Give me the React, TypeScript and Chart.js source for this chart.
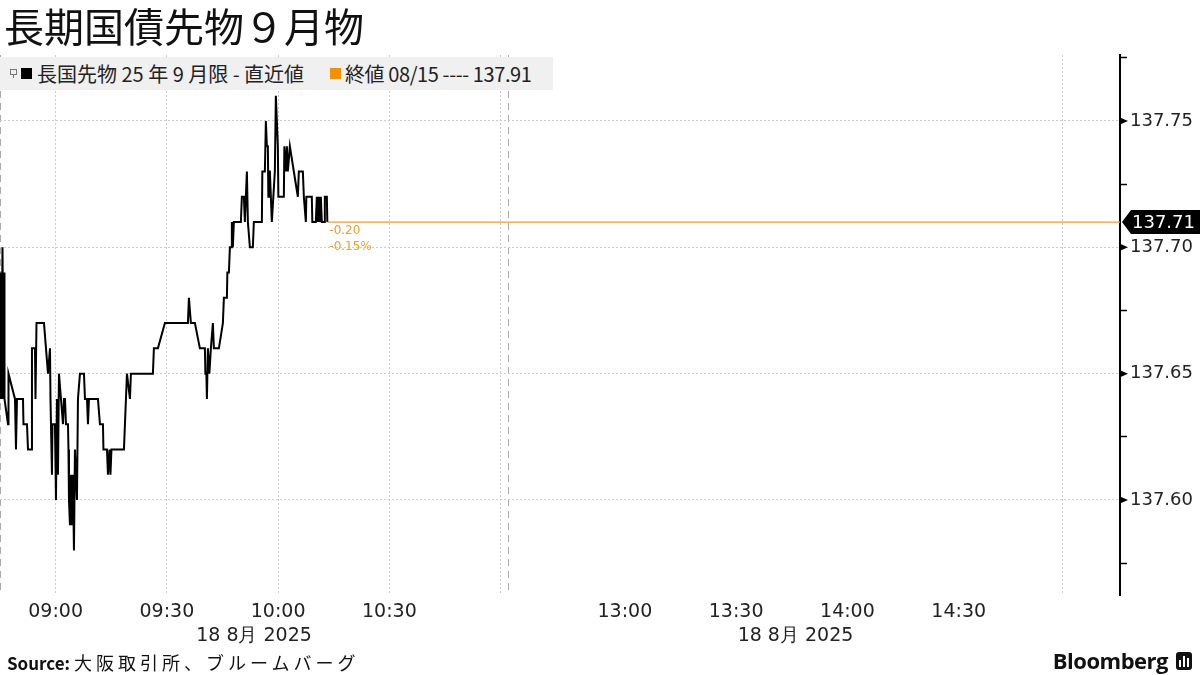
import React, { useEffect, useRef } from "react";
import { Chart, registerables } from "chart.js";

Chart.register(...registerables);

// ---------------- data ----------------
const chartTitle = "長期国債先物９月物";
const seriesName = "長国先物 25 年 9 月限 - 直近値";
const refName = "終値 08/15 ---- 137.91";
const sourceLabel = "Source:";
const sourceText = "大阪取引所、ブルームバーグ";
const brand = "Bloomberg";
const dateLabel = "18 8月 2025";

const sessionOpen = "08:45";
const morningClose = "11:02";
const afternoonOpen = "12:30";
const afternoonClose = "15:02";

// minutes elapsed since 08:45
const elapsedMin = [
  0, 0.27, 0.4, 0.67, 0.94, 1.08, 1.21, 2.16, 2.29, 4.04, 4.31, 4.58, 6.2, 6.33, 7.28, 7.55, 8.49, 8.62, 9.43, 9.57,
  9.84, 11.86, 12.94, 13.48, 13.61, 14.01, 14.15, 14.82, 15.09, 15.36, 15.63, 15.9, 16.44, 16.98, 17.25, 17.52, 17.79,
  18.33, 18.46, 18.6, 18.87, 19.13, 19.4, 19.67, 19.94, 20.21, 20.75, 21.02, 21.56, 22.64, 22.91, 23.45, 23.72, 23.99,
  26.41, 26.95, 27.76, 27.89, 28.84, 29.11, 29.51, 29.78, 30.05, 33.42, 34.23, 35.04, 35.3, 41.23, 41.5, 42.58, 44.47,
  50.67, 50.94, 51.47, 52.55, 53.9, 55.25, 55.38, 55.65, 55.79, 56.06, 56.46, 56.86, 57.4, 57.67, 59.02, 60.1, 60.37,
  61.18, 61.31, 61.72, 61.99, 62.39, 62.52, 62.79, 63.06, 64.95, 65.22, 65.76, 66.03, 66.3, 66.57, 66.84, 67.38, 68.18,
  68.45, 70.61, 70.74, 71.42, 71.69, 71.96, 72.23, 72.36, 72.5, 72.77, 73.3, 74.11, 74.38, 74.92, 75.06, 76.54, 76.68,
  77.08, 77.35, 77.62, 78.16, 79.23, 80.31, 80.58, 81.66, 81.93, 82.47, 82.6, 84.08, 84.22, 85.16, 85.43, 85.7, 85.97,
  86.24, 86.51, 86.78, 87.45, 87.59, 88.13, 88.26,
];

const prices = [
  137.64, 137.69, 137.64, 137.7, 137.64, 137.69, 137.64, 137.63, 137.65, 137.64, 137.62, 137.64, 137.64, 137.63, 137.63,
  137.62, 137.62, 137.66, 137.66, 137.64, 137.67, 137.67, 137.65, 137.66, 137.64, 137.61, 137.63, 137.63, 137.6, 137.64,
  137.61, 137.65, 137.64, 137.63, 137.64, 137.64, 137.63, 137.63, 137.62, 137.6, 137.59, 137.61, 137.59, 137.61, 137.58,
  137.62, 137.6, 137.64, 137.65, 137.65, 137.64, 137.64, 137.63, 137.64, 137.64, 137.63, 137.63, 137.62, 137.62, 137.61,
  137.62, 137.61, 137.62, 137.62, 137.65, 137.64, 137.65, 137.65, 137.66, 137.66, 137.67, 137.67, 137.68, 137.67, 137.67,
  137.66, 137.66, 137.65, 137.65, 137.64, 137.66, 137.65, 137.66, 137.67, 137.66, 137.66, 137.67, 137.68, 137.68, 137.69,
  137.69, 137.7, 137.7, 137.71, 137.7, 137.71, 137.71, 137.72, 137.72, 137.71, 137.72, 137.73, 137.71, 137.7, 137.7,
  137.71, 137.71, 137.73, 137.73, 137.75, 137.74, 137.74, 137.72, 137.73, 137.73, 137.71, 137.73, 137.76, 137.74, 137.72,
  137.72, 137.74, 137.73, 137.74, 137.73, 137.74, 137.73, 137.72, 137.73, 137.73, 137.72, 137.71, 137.72, 137.72, 137.71,
  137.71, 137.72, 137.71, 137.72, 137.71, 137.72, 137.71, 137.71, 137.72, 137.72, 137.71,
];

const lastPrice = 137.71;
const changeAbs = "-0.20";
const changePct = "-0.15%";

const xGridTimes = ["08:45", "09:00", "09:30", "10:00", "10:30", "11:00", "11:02", "13:00", "13:30", "14:00", "14:30", "14:58"];
const xTickLabels = ["", "09:00", "09:30", "10:00", "10:30", "", "", "13:00", "13:30", "14:00", "14:30", ""];
const sessionBreakTimes = ["08:45", "11:02"];

const yMin = 137.5624;
const yMax = 137.7761;
const yTickValues = [137.575, 137.6, 137.625, 137.65, 137.675, 137.7, 137.725, 137.75, 137.775];
const yLabelledTicks = [137.6, 137.65, 137.7, 137.75];

// ---------------- helpers ----------------
const AXIS_FONT = "'DejaVu Sans', sans-serif";
const CJK_FONT = "'Noto Sans CJK JP', 'Noto Sans', sans-serif";
const ORANGE = "#e8a030";

function clock(t: string): number {
  const [h, m] = t.split(":").map(Number);
  return h * 60 + m;
}
const OPEN = clock(sessionOpen);
const GAP = clock(afternoonOpen) - clock(morningClose) - 1.5;
function toAxis(t: string): number {
  const m = clock(t) - OPEN;
  return clock(t) >= clock(afternoonOpen) ? m - GAP : m;
}
const X_MAX = 302;
const isLabelled = (v: number) => yLabelledTicks.some((t) => Math.abs(t - v) < 1e-6);

const overlayPlugin = {
  id: "overlay",
  afterDraw(chart: any) {
    const { ctx, scales } = chart;
    const ys = scales.y;
    const xs = scales.x;
    const right = chart.chartArea.right;
    ctx.save();
    ctx.fillStyle = "#000";
    yLabelledTicks.forEach((v) => {
      const y = ys.getPixelForValue(v);
      ctx.beginPath();
      ctx.moveTo(right, y - 3.5);
      ctx.lineTo(right + 8, y);
      ctx.lineTo(right, y + 3.5);
      ctx.closePath();
      ctx.fill();
    });
    const by = ys.getPixelForValue(lastPrice);
    ctx.beginPath();
    ctx.moveTo(right + 2, by);
    ctx.lineTo(right + 11, by - 12);
    ctx.lineTo(1200, by - 12);
    ctx.lineTo(1200, by + 12);
    ctx.lineTo(right + 11, by + 12);
    ctx.closePath();
    ctx.fill();
    ctx.fillStyle = "#fff";
    ctx.font = `18px ${AXIS_FONT}`;
    ctx.textAlign = "left";
    ctx.textBaseline = "middle";
    ctx.fillText(lastPrice.toFixed(2), right + 12, by + 1);
    const lx = xs.getPixelForValue(elapsedMin[elapsedMin.length - 1]);
    ctx.fillStyle = ORANGE;
    ctx.font = `12px ${AXIS_FONT}`;
    ctx.fillText(changeAbs, lx + 2, by + 9);
    ctx.fillText(changePct, lx + 2, by + 25);
    ctx.fillStyle = "#222";
    ctx.font = `19px ${AXIS_FONT}`;
    ctx.textAlign = "center";
    const sessions = [
      [sessionOpen, morningClose],
      [afternoonOpen, afternoonClose],
    ];
    sessions.forEach(([a, b]) => {
      const cx = (xs.getPixelForValue(toAxis(a)) + xs.getPixelForValue(toAxis(b))) / 2;
      ctx.fillText(dateLabel, cx, chart.chartArea.bottom + 41);
    });
    ctx.restore();
  },
};

export default function App() {
  const ref = useRef<HTMLCanvasElement | null>(null);

  useEffect(() => {
    if (!ref.current) return;
    const xTicks = xGridTimes.map(toAxis);
    const breaks = sessionBreakTimes.map(toAxis);
    const lastX = elapsedMin[elapsedMin.length - 1];
    const chart = new Chart(ref.current, {
      type: "line",
      data: {
        datasets: [
          {
            label: seriesName,
            data: elapsedMin.map((m, i) => ({ x: m, y: prices[i] })),
            borderColor: "#000",
            borderWidth: 2,
            pointRadius: 0,
            pointHoverRadius: 0,
            tension: 0,
          },
          {
            label: refName,
            data: [
              { x: lastX, y: lastPrice },
              { x: X_MAX, y: lastPrice },
            ],
            borderColor: ORANGE,
            borderWidth: 1.2,
            pointRadius: 0,
            pointHoverRadius: 0,
          },
        ],
      },
      options: {
        responsive: false,
        animation: false,
        layout: { autoPadding: false, padding: { top: 55, left: 0, right: 0, bottom: 0 } },
        plugins: { legend: { display: false }, tooltip: { enabled: false }, title: { display: false } },
        scales: {
          x: {
            type: "linear",
            min: 0,
            max: X_MAX,
            afterBuildTicks: (s: any) => {
              s.ticks = xTicks.map((v) => ({ value: v }));
            },
            afterFit: (s: any) => {
              s.height = 80;
              s.paddingLeft = 0;
              s.paddingRight = 0;
            },
            ticks: {
              autoSkip: false,
              maxRotation: 0,
              padding: 6,
              color: "#222",
              font: { family: AXIS_FONT, size: 19 },
              callback: (_v: any, i: number) => xTickLabels[i],
            },
            grid: {
              drawTicks: false,
              lineWidth: 1,
              color: (c: any) => {
                const v = c.tick?.value;
                if (breaks.some((b) => Math.abs(b - v) < 1e-6)) return "#aaaaaa";
                const i = xTicks.findIndex((t) => Math.abs(t - v) < 1e-6);
                if (i >= 0 && v > toAxis(morningClose) && xTickLabels[i] !== "") return "rgba(0,0,0,0)";
                return "#cccccc";
              },
            },
            border: {
              display: false,
              dash: (c: any) => {
                const v = c.tick?.value;
                return breaks.some((b) => Math.abs(b - v) < 1e-6) ? [7, 5] : [2, 2];
              },
            },
          },
          y: {
            position: "right",
            min: yMin,
            max: yMax,
            afterBuildTicks: (s: any) => {
              s.ticks = yTickValues.map((v) => ({ value: v }));
            },
            afterFit: (s: any) => {
              s.width = 80;
              s.paddingTop = 0;
              s.paddingBottom = 0;
            },
            ticks: {
              padding: 3,
              color: "#222",
              font: { family: AXIS_FONT, size: 18 },
              callback: (v: any) => (isLabelled(Number(v)) ? Number(v).toFixed(2) : ""),
            },
            grid: {
              drawTicks: true,
              tickLength: 7,
              tickWidth: 1.5,
              tickColor: (c: any) => (isLabelled(c.tick?.value) ? "rgba(0,0,0,0)" : "#000"),
              color: (c: any) => (isLabelled(c.tick?.value) ? "#cccccc" : "rgba(0,0,0,0)"),
              lineWidth: 1,
            },
            border: { display: true, color: "#000", width: 2, dash: [2, 2] },
          },
        },
      },
      plugins: [overlayPlugin],
    } as any);
    return () => chart.destroy();
  }, []);

  return (
    <div
      style={{
        position: "absolute",
        left: 0,
        top: 0,
        width: 1200,
        height: 675,
        background: "#fff",
        overflow: "hidden",
        fontFamily: CJK_FONT,
      }}
    >
      <canvas ref={ref} width={1200} height={675} style={{ position: "absolute", left: 0, top: 0 }} />
      <div
        style={{
          position: "absolute",
          left: 4,
          top: 0,
          fontSize: 40,
          lineHeight: "50px",
          color: "#111",
          whiteSpace: "nowrap",
        }}
      >
        {chartTitle}
      </div>
      <div
        style={{
          position: "absolute",
          left: 0,
          top: 57,
          width: 553,
          height: 33,
          background: "#f0f0f0",
          fontSize: 20,
          lineHeight: "33px",
          color: "#222",
          whiteSpace: "nowrap",
        }}
      >
        <div style={{ position: "absolute", left: 10, top: 12, width: 5, height: 4, border: "1px solid #777" }} />
        <div style={{ position: "absolute", left: 13, top: 17, width: 1, height: 4, background: "#777" }} />
        <div style={{ position: "absolute", left: 21, top: 11, width: 11, height: 11, background: "#000" }} />
        <div style={{ position: "absolute", left: 37, top: 0 }}>{seriesName}</div>
        <div style={{ position: "absolute", left: 330, top: 11, width: 11, height: 11, background: "#f39200" }} />
        <div style={{ position: "absolute", left: 345, top: 0, letterSpacing: -0.4 }}>{refName}</div>
      </div>
      <div
        style={{
          position: "absolute",
          left: 7,
          top: 649,
          fontSize: 17,
          lineHeight: "26px",
          color: "#111",
          whiteSpace: "nowrap",
        }}
      >
        <span style={{ fontWeight: 700 }}>{sourceLabel}</span>{" "}
        <span style={{ fontSize: 18, letterSpacing: 4 }}>{sourceText}</span>
      </div>
      <div
        style={{
          position: "absolute",
          right: 32,
          top: 645,
          fontSize: 22,
          lineHeight: "30px",
          fontWeight: 700,
          fontFamily: "'Open Sans', sans-serif",
          color: "#111",
          letterSpacing: -0.5,
        }}
      >
        {brand}
      </div>
      <div
        style={{
          position: "absolute",
          left: 1176,
          top: 652,
          width: 16,
          height: 18,
          background: "#111",
          borderRadius: 3,
        }}
      >
        <div style={{ position: "absolute", left: 3, top: 8, width: 2, height: 7, background: "#fff" }} />
        <div style={{ position: "absolute", left: 7, top: 4, width: 2, height: 11, background: "#fff" }} />
        <div style={{ position: "absolute", left: 11, top: 6, width: 2, height: 9, background: "#fff" }} />
      </div>
    </div>
  );
}
